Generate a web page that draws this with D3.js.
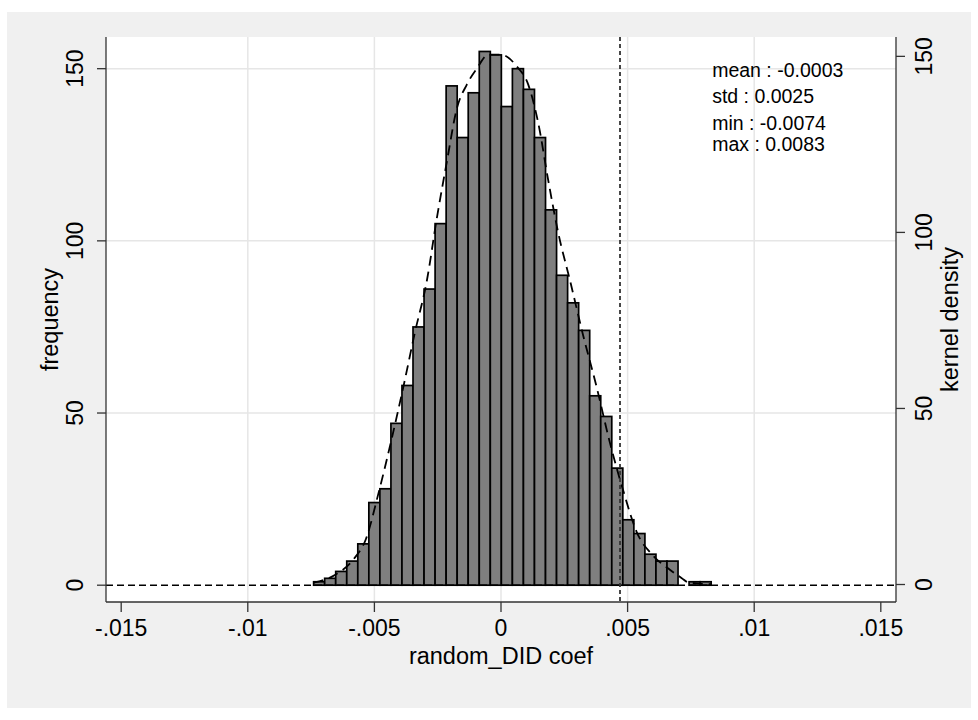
<!DOCTYPE html>
<html>
<head>
<meta charset="utf-8">
<script src="https://cdn.jsdelivr.net/npm/d3@7"></script>
<style>
  body { margin: 0; background: #fff; }
  svg { display: block; }
  text { font-family: "Liberation Sans", Arial, Helvetica, sans-serif; fill: #000; }
</style>
</head>
<body>
<svg id="chart" width="978" height="720"></svg>
<script>
// histogram counts, 36 equal bins from min to max
const counts = [1, 2, 4, 7, 12, 24, 28, 47, 58, 75, 86, 105, 145, 130, 143, 155, 154, 139,
  150, 144, 130, 109, 90, 82, 74, 55, 49, 34, 19, 15, 9, 7, 7, 0, 1, 1];
const coefMin = -0.0074;
const coefMax = 0.0083;

// kernel density
const kdeX = [-0.0074, -0.00656, -0.00583, -0.00533, -0.00485, -0.00432, -0.00386, -0.0034,
  -0.00293, -0.00254, -0.00214, -0.00175, -0.00135, -0.00096, -0.0005, 0, 0.00062, 0.00108,
  0.00147, 0.00187, 0.00226, 0.00273, 0.00325, 0.00378, 0.0043, 0.00483, 0.00536, 0.00602,
  0.00667, 0.00714, 0.00739, 0.0083];
const kdeY = [0.5, 2.7, 7.1, 13, 25.6, 41.3, 56, 71.6, 86.2, 103.8, 120, 135, 142, 146.5,
  150.5, 150.5, 147.2, 141.9, 131.1, 114.6, 99.9, 86.2, 70.6, 56, 40.3, 26.6, 14.9, 8.1,
  4.2, 1.8, 0.6, 0.1];

const xTicks = [-0.015, -0.01, -0.005, 0, 0.005, 0.01, 0.015];
const xTickLabels = ["-.015", "-.01", "-.005", "0", ".005", ".01", ".015"];
const yTicks = [0, 50, 100, 150];
const refLine = 0.0047;
const statLines = ["mean : -0.0003", "std : 0.0025", "min : -0.0074", "max : 0.0083"];

const svg = d3.select("#chart");
const pLeft = 106, pRight = 896, pTop = 37, pBottom = 602;

// background
svg.append("rect").attr("x", 7).attr("y", 12).attr("width", 964).attr("height", 696)
  .attr("fill", "#f0f0f0");
svg.append("rect").attr("x", pLeft).attr("y", pTop).attr("width", pRight - pLeft)
  .attr("height", pBottom - pTop).attr("fill", "#fff");

// scales
const x = d3.scaleLinear().domain([-0.0156, 0.0156]).range([pLeft, pRight]);
const y = d3.scaleLinear().domain([-4.88, 159.2]).range([pBottom, pTop]);
const yR = d3.scaleLinear().domain([-4.97, 155.5]).range([pBottom, pTop]);

// grid
svg.append("g").selectAll("line")
  .data(xTicks.filter(d => Math.abs(d) < 0.012))
  .enter().append("line")
  .attr("x1", d => x(d)).attr("x2", d => x(d))
  .attr("y1", pTop).attr("y2", pBottom)
  .attr("stroke", "#e6e6e6").attr("stroke-width", 1.5);
svg.append("g").selectAll("line")
  .data(yTicks.filter(d => d > 0))
  .enter().append("line")
  .attr("x1", pLeft).attr("x2", pRight)
  .attr("y1", d => y(d)).attr("y2", d => y(d))
  .attr("stroke", "#e6e6e6").attr("stroke-width", 1.5);

// bars
const binW = (coefMax - coefMin) / counts.length;
const bins = counts.map((c, i) => ({ c, x0: coefMin + i * binW, x1: coefMin + (i + 1) * binW }))
  .filter(d => d.c > 0);
svg.append("g").selectAll("rect")
  .data(bins)
  .enter().append("rect")
  .attr("x", d => x(d.x0))
  .attr("width", d => x(d.x1) - x(d.x0))
  .attr("y", d => y(d.c))
  .attr("height", d => y(0) - y(d.c))
  .attr("fill", "#7f7f7f")
  .attr("stroke", "#000")
  .attr("stroke-width", 1.7);

// zero line
svg.append("line")
  .attr("x1", pLeft).attr("x2", pRight)
  .attr("y1", y(0)).attr("y2", y(0))
  .attr("stroke", "#000").attr("stroke-width", 1.5)
  .attr("stroke-dasharray", "7,4");

// kernel density
const kde = kdeX.map((v, i) => [v, kdeY[i]]);
svg.append("path")
  .datum(kde)
  .attr("fill", "none")
  .attr("stroke", "#000")
  .attr("stroke-width", 1.8)
  .attr("stroke-dasharray", "10,6")
  .attr("d", d3.line().x(d => x(d[0])).y(d => yR(d[1])).curve(d3.curveMonotoneX));

// reference line
svg.append("line")
  .attr("x1", x(refLine)).attr("x2", x(refLine))
  .attr("y1", pTop).attr("y2", pBottom)
  .attr("stroke", "#333").attr("stroke-width", 1.8)
  .attr("stroke-dasharray", "4,3");

// axes
const axisColor = "#333";
svg.append("line").attr("x1", pLeft).attr("x2", pRight).attr("y1", pBottom).attr("y2", pBottom)
  .attr("stroke", axisColor).attr("stroke-width", 1.3);
svg.append("line").attr("x1", pLeft).attr("x2", pLeft).attr("y1", pTop).attr("y2", pBottom)
  .attr("stroke", axisColor).attr("stroke-width", 1.3);
svg.append("line").attr("x1", pRight).attr("x2", pRight).attr("y1", pTop).attr("y2", pBottom)
  .attr("stroke", axisColor).attr("stroke-width", 1.3);

// x ticks
const gx = svg.append("g");
gx.selectAll("line").data(xTicks).enter().append("line")
  .attr("x1", d => x(d)).attr("x2", d => x(d))
  .attr("y1", pBottom).attr("y2", pBottom + 10)
  .attr("stroke", axisColor).attr("stroke-width", 1.3);
gx.selectAll("text").data(xTicks).enter().append("text")
  .attr("x", d => x(d)).attr("y", 636)
  .attr("text-anchor", "middle")
  .style("font-size", "23px")
  .text((d, i) => xTickLabels[i]);
svg.append("text")
  .attr("x", x(0)).attr("y", 664)
  .attr("text-anchor", "middle")
  .style("font-size", "23.5px")
  .text("random_DID coef");

// left y ticks
const gl = svg.append("g");
gl.selectAll("line").data(yTicks).enter().append("line")
  .attr("x1", pLeft - 9).attr("x2", pLeft)
  .attr("y1", d => y(d)).attr("y2", d => y(d))
  .attr("stroke", axisColor).attr("stroke-width", 1.3);
gl.selectAll("text").data(yTicks).enter().append("text")
  .attr("transform", d => `translate(83,${y(d)}) rotate(-90)`)
  .attr("text-anchor", "middle")
  .style("font-size", "23px")
  .text(d => d);
svg.append("text")
  .attr("transform", `translate(58,${(pTop + pBottom) / 2}) rotate(-90)`)
  .attr("text-anchor", "middle")
  .style("font-size", "23.5px")
  .text("frequency");

// right y ticks
const gr = svg.append("g");
gr.selectAll("line").data(yTicks).enter().append("line")
  .attr("x1", pRight).attr("x2", pRight + 9)
  .attr("y1", d => yR(d)).attr("y2", d => yR(d))
  .attr("stroke", axisColor).attr("stroke-width", 1.3);
gr.selectAll("text").data(yTicks).enter().append("text")
  .attr("transform", d => `translate(932,${yR(d)}) rotate(-90)`)
  .attr("text-anchor", "middle")
  .style("font-size", "23px")
  .text(d => d);
svg.append("text")
  .attr("transform", `translate(958,${(pTop + pBottom) / 2}) rotate(-90)`)
  .attr("text-anchor", "middle")
  .style("font-size", "23.5px")
  .text("kernel density");

// summary statistics
const statPos = [147.6, 140, 132.1, 126.2];
svg.append("g").selectAll("text").data(statLines).enter().append("text")
  .attr("x", x(coefMax) + 1)
  .attr("y", (d, i) => y(statPos[i]))
  .style("font-size", "19.5px")
  .text(d => d);
</script>
</body>
</html>
